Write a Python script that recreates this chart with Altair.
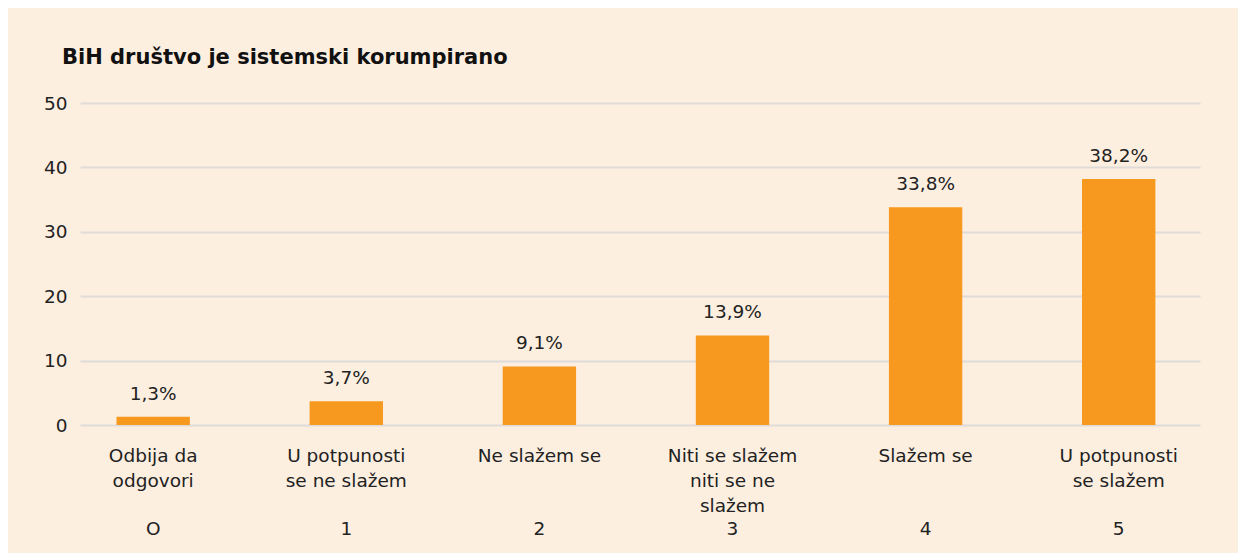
import altair as alt
import pandas as pd

categories = [
    ["Odbija da", "odgovori"],
    ["U potpunosti", "se ne slažem"],
    ["Ne slažem se"],
    ["Niti se slažem", "niti se ne", "slažem"],
    ["Slažem se"],
    ["U potpunosti", "se slažem"],
]
scale_numbers = ["O", "1", "2", "3", "4", "5"]
values = [1.3, 3.7, 9.1, 13.9, 33.8, 38.2]
title_text = "BiH društvo je sistemski korumpirano"

labels = ["|".join(c) for c in categories]
df = pd.DataFrame({
    "cat": labels,
    "num": scale_numbers,
    "value": values,
    "txt": [f"{v:.1f}".replace(".", ",") + "%" for v in values],
})

FONT = "DejaVu Sans"
BG = "#FDEFE0"
BAR = "#F7981F"
TXT = "#222222"
FS = 18.5
PLOT_H = 322

xscale = alt.Scale(paddingInner=0.62, paddingOuter=0.21, align=0.45)

x = alt.X(
    "cat:N",
    sort=labels,
    title=None,
    scale=xscale,
    axis=alt.Axis(
        labelExpr="split(datum.value, '|')",
        labelAngle=0,
        labelFontSize=FS,
        labelLineHeight=25,
        labelColor=TXT,
        labelFont=FONT,
        labelPadding=21,
        ticks=False,
        domain=False,
        labelLimit=300,
    ),
)
y = alt.Y(
    "value:Q",
    title=None,
    scale=alt.Scale(domain=[0, 50]),
    axis=alt.Axis(
        values=[0, 10, 20, 30, 40, 50],
        labelFontSize=FS,
        labelColor=TXT,
        labelFont=FONT,
        labelPadding=13,
        ticks=False,
        domain=False,
        gridColor="#DEDBD8",
        gridWidth=2,
    ),
)

base = alt.Chart(df)
bars = base.mark_bar(color=BAR).encode(x=x, y=y)
text = base.mark_text(
    baseline="bottom", dy=-13, fontSize=FS, font=FONT, color=TXT
).encode(x=alt.X("cat:N", sort=labels), y="value:Q", text="txt:N")
nums = base.mark_text(
    baseline="middle", fontSize=FS, font=FONT, color=TXT
).encode(
    x=alt.X("cat:N", sort=labels),
    y=alt.value(PLOT_H + 104),
    text="num:N",
)

chart = (
    alt.layer(bars, text, nums)
    .properties(
        width=1120,
        height=PLOT_H,
        autosize=alt.AutoSizeParams(type="none"),
        padding={"left": 72, "top": 95, "right": 38, "bottom": 128},
        background=BG,
        title=alt.TitleParams(
            title_text,
            anchor="start",
            frame="group",
            font=FONT,
            fontSize=21,
            fontWeight="bold",
            color="#111111",
            dx=-18,
            offset=26,
        ),
    )
    .configure_view(stroke=None)
)

chart.save("out.html", embed_options={"renderer": "svg", "actions": False})
